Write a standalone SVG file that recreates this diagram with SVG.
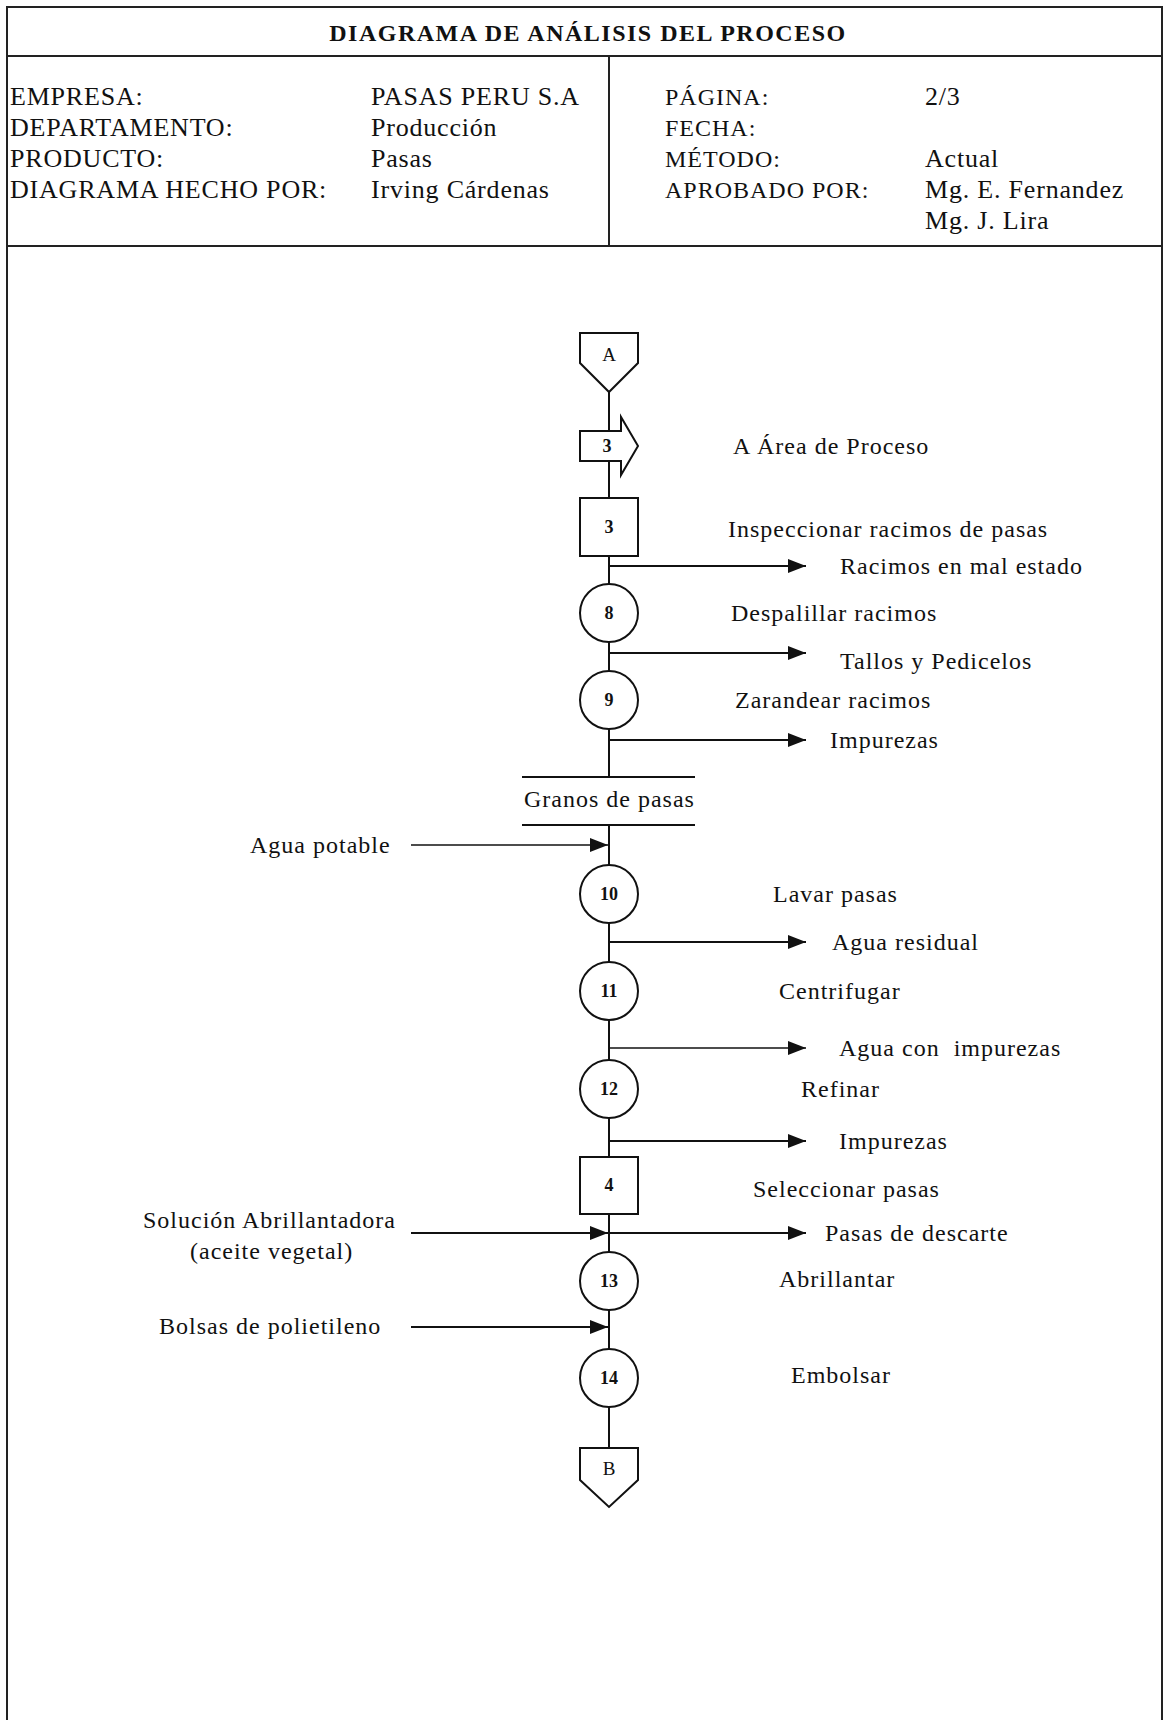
<svg xmlns="http://www.w3.org/2000/svg" width="1165" height="1720" viewBox="0 0 1165 1720">
<style>
  .t { font-family: "Liberation Serif", "Times New Roman", serif; font-size: 24px; letter-spacing: 1px; fill: #111; }
  .h { font-family: "Liberation Serif", "Times New Roman", serif; font-size: 26px; letter-spacing: 0.8px; fill: #111; }
  .title { font-family: "Liberation Serif", "Times New Roman", serif; font-size: 24px; font-weight: bold; letter-spacing: 1.5px; fill: #111; }
  .num { font-family: "Liberation Serif", "Times New Roman", serif; font-size: 18px; font-weight: bold; fill: #111; text-anchor: middle; }
  .let { font-family: "Liberation Serif", "Times New Roman", serif; font-size: 19px; fill: #111; text-anchor: middle; }
  .frame { fill: none; stroke: #222; stroke-width: 2; }
  .shape { fill: #fff; stroke: #111; stroke-width: 2; }
  .ln { fill: none; stroke: #111; stroke-width: 2; }
  .thin { fill: none; stroke: #111; stroke-width: 1.4; }
</style>
<defs>
  <marker id="ah" viewBox="0 0 18 14" refX="18" refY="7" markerWidth="18" markerHeight="14" markerUnits="userSpaceOnUse" orient="auto">
    <path d="M0,0 L18,7 L0,14 Z" fill="#111"/>
  </marker>
</defs>
<rect width="1165" height="1720" fill="#fff"/>

<g id="header">
  <path class="frame" d="M7,1720 V7 H1162 V1720"/>
  <line class="frame" x1="7" y1="56" x2="1162" y2="56"/>
  <line class="frame" x1="7" y1="246" x2="1162" y2="246"/>
  <line class="frame" x1="609" y1="56" x2="609" y2="246"/>
  <text class="title" x="588" y="41" text-anchor="middle">DIAGRAMA DE ANÁLISIS DEL PROCESO</text>
  <text class="h" x="10" y="105">EMPRESA:</text>
  <text class="h" x="10" y="136">DEPARTAMENTO:</text>
  <text class="h" x="10" y="167">PRODUCTO:</text>
  <text class="h" x="10" y="198">DIAGRAMA HECHO POR:</text>
  <text class="h" x="371" y="105">PASAS PERU S.A</text>
  <text class="h" x="371" y="136">Producción</text>
  <text class="h" x="371" y="167">Pasas</text>
  <text class="h" x="371" y="198">Irving Cárdenas</text>
  <text class="t" x="665" y="105">PÁGINA:</text>
  <text class="t" x="665" y="136">FECHA:</text>
  <text class="t" x="665" y="167">MÉTODO:</text>
  <text class="t" x="665" y="198">APROBADO POR:</text>
  <text class="h" x="925" y="105">2/3</text>
  <text class="h" x="925" y="167">Actual</text>
  <text class="h" x="925" y="198">Mg. E. Fernandez</text>
  <text class="h" x="925" y="229">Mg. J. Lira</text>
</g>

<g id="connectors">
  <line class="ln" x1="609" y1="392" x2="609" y2="777"/>
  <line class="ln" x1="609" y1="825" x2="609" y2="1448"/>
  <line class="ln" x1="609" y1="566" x2="806" y2="566" marker-end="url(#ah)"/>
  <line class="ln" x1="609" y1="653" x2="806" y2="653" marker-end="url(#ah)"/>
  <line class="ln" x1="609" y1="740" x2="806" y2="740" marker-end="url(#ah)"/>
  <line class="thin" x1="411" y1="845" x2="608" y2="845" marker-end="url(#ah)"/>
  <line class="ln" x1="609" y1="942" x2="806" y2="942" marker-end="url(#ah)"/>
  <line class="thin" x1="609" y1="1048" x2="806" y2="1048" marker-end="url(#ah)"/>
  <line class="ln" x1="609" y1="1141" x2="806" y2="1141" marker-end="url(#ah)"/>
  <line class="ln" x1="411" y1="1233" x2="608" y2="1233" marker-end="url(#ah)"/>
  <line class="ln" x1="609" y1="1233" x2="806" y2="1233" marker-end="url(#ah)"/>
  <line class="ln" x1="411" y1="1327" x2="608" y2="1327" marker-end="url(#ah)"/>
</g>

<g id="connA">
  <path class="shape" d="M580,333 H638 V363 L609,392 L580,363 Z"/>
  <text class="let" x="609" y="361">A</text>
</g>
<g id="transport3">
  <path class="shape" d="M580,431 H621 V417 L638,446 L621,475 V461 H580 Z"/>
  <text class="num" x="607" y="452">3</text>
</g>
<text class="t" x="733" y="454">A Área de Proceso</text>
<g id="insp3">
  <rect class="shape" x="580" y="498" width="58" height="58"/>
  <text class="num" x="609" y="533">3</text>
</g>
<text class="t" x="728" y="537">Inspeccionar racimos de pasas</text>
<text class="t" x="840" y="574">Racimos en mal estado</text>
<g id="op8">
  <circle class="shape" cx="609" cy="613" r="29"/>
  <text class="num" x="609" y="619">8</text>
</g>
<text class="t" x="731" y="621">Despalillar racimos</text>
<text class="t" x="840" y="669">Tallos y Pedicelos</text>
<g id="op9">
  <circle class="shape" cx="609" cy="700" r="29"/>
  <text class="num" x="609" y="706">9</text>
</g>
<text class="t" x="735" y="708">Zarandear racimos</text>
<text class="t" x="830" y="748">Impurezas</text>
<g id="material">
  <line class="ln" x1="522" y1="777" x2="695" y2="777"/>
  <line class="ln" x1="522" y1="825" x2="695" y2="825"/>
  <text class="t" x="524" y="807">Granos de pasas</text>
</g>
<text class="t" x="250" y="853">Agua potable</text>
<g id="op10">
  <circle class="shape" cx="609" cy="894" r="29"/>
  <text class="num" x="609" y="900">10</text>
</g>
<text class="t" x="773" y="902">Lavar pasas</text>
<text class="t" x="832" y="950">Agua residual</text>
<g id="op11">
  <circle class="shape" cx="609" cy="991" r="29"/>
  <text class="num" x="609" y="997">11</text>
</g>
<text class="t" x="779" y="999">Centrifugar</text>
<text class="t" x="839" y="1056" xml:space="preserve">Agua con  impurezas</text>
<g id="op12">
  <circle class="shape" cx="609" cy="1089" r="29"/>
  <text class="num" x="609" y="1095">12</text>
</g>
<text class="t" x="801" y="1097">Refinar</text>
<text class="t" x="839" y="1149">Impurezas</text>
<g id="insp4">
  <rect class="shape" x="580" y="1157" width="58" height="57"/>
  <text class="num" x="609" y="1191">4</text>
</g>
<text class="t" x="753" y="1197">Seleccionar pasas</text>
<text class="t" x="825" y="1241">Pasas de descarte</text>
<text class="t" x="143" y="1228">Solución Abrillantadora</text>
<text class="t" x="190" y="1259">(aceite vegetal)</text>
<g id="op13">
  <circle class="shape" cx="609" cy="1281" r="29"/>
  <text class="num" x="609" y="1287">13</text>
</g>
<text class="t" x="779" y="1287">Abrillantar</text>
<text class="t" x="159" y="1334">Bolsas de polietileno</text>
<g id="op14">
  <circle class="shape" cx="609" cy="1378" r="29"/>
  <text class="num" x="609" y="1384">14</text>
</g>
<text class="t" x="791" y="1383">Embolsar</text>
<g id="connB">
  <path class="shape" d="M580,1448 H638 V1480 L609,1507 L580,1480 Z"/>
  <text class="let" x="609" y="1475">B</text>
</g>
</svg>
